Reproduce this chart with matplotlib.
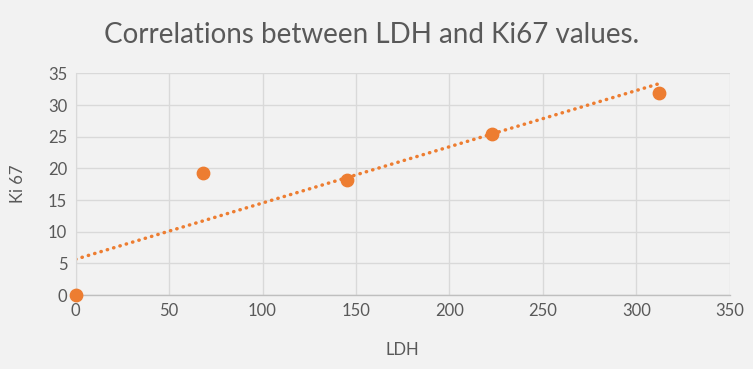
import matplotlib
matplotlib.use('Agg')
import matplotlib.pyplot as plt
import numpy as np

# LDH vs Ki67 values
ldh = [0, 68, 145, 223, 312]
ki67 = [0, 19.2, 18.1, 25.5, 31.9]
x_ticks = [0, 50, 100, 150, 200, 250, 300, 350]
y_ticks = [0, 5, 10, 15, 20, 25, 30, 35]

plt.rcParams['font.family'] = ['Lato', 'DejaVu Sans']

bg = '#f2f2f2'
orange = '#ed7d31'
txt = '#595959'

fig = plt.figure(figsize=(7.53, 3.69), dpi=100, facecolor=bg)
ax = fig.add_axes([0.1005, 0.2005, 0.8685, 0.6005], facecolor=bg)

# linear trendline (least squares, like Excel)
slope, intercept = np.polyfit(ldh, ki67, 1)
tx = np.array([min(ldh), max(ldh)])
ax.plot(tx, slope * tx + intercept, color=orange, linewidth=2.5,
        linestyle=(0, (0.1, 1.8)), dash_capstyle='round', zorder=2)

ax.scatter(ldh, ki67, s=80, color=orange, zorder=3, clip_on=False)

ax.set_xlim(0, 350)
ax.set_ylim(0, 35)
ax.set_xticks(x_ticks)
ax.set_yticks(y_ticks)
ax.grid(True, color='#d9d9d9', linewidth=1)
ax.set_axisbelow(True)
for s in ['top', 'right']:
    ax.spines[s].set_visible(False)
ax.spines['left'].set_color('#d9d9d9')
ax.spines['bottom'].set_color('#bfbfbf')
ax.spines['bottom'].set_linewidth(1)
ax.tick_params(length=0, labelsize=12, colors=txt, pad=6)

ax.set_xlabel('LDH', fontsize=12, color=txt, labelpad=16)
ax.set_ylabel('Ki 67', fontsize=12, color=txt, labelpad=16)
fig.text(0.494, 0.905, 'Correlations between LDH and Ki67 values.',
         ha='center', va='center', fontsize=20, color=txt)

plt.savefig('out.png', dpi=100, facecolor=bg)
